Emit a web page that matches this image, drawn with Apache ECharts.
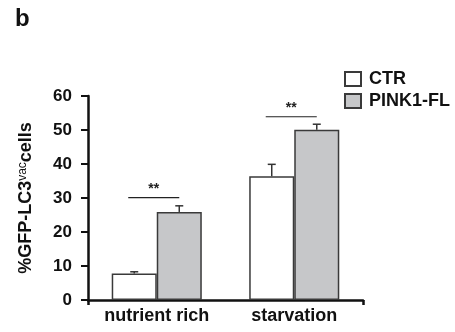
<!DOCTYPE html>
<html><head><meta charset="utf-8">
<script src="https://cdn.jsdelivr.net/npm/echarts@6/dist/echarts.min.js"></script>
<style>html,body{margin:0;padding:0;background:#fff}#c{width:455px;height:332px}</style>
</head><body><div id="c"></div>
<script>
const categories = ['nutrient rich', 'starvation'];
const seriesNames = ['CTR', 'PINK1-FL'];
const ctrValues = [7.8, 36.4];
const ctrErrors = [0.5, 3.5];
const pinkValues = [25.9, 50.1];
const pinkErrors = [1.8, 1.6];
const sigLevels = [30.1, 53.9];
const sigLabels = ['**', '**'];
const yTicks = [0, 10, 20, 30, 40, 50, 60];

const FONT = 'Liberation Sans, Arial, Helvetica, sans-serif';
const chart = echarts.init(document.getElementById('c'), null, {renderer: 'canvas'});

function errSeries(vals, errs, offsetIdx) {
  return {
    type: 'custom',
    xAxisIndex: 0, yAxisIndex: 0,
    z: 5,
    silent: true,
    data: vals.map((v, i) => [i, v, v + errs[i]]),
    renderItem: function (params, api) {
      const band = api.size([1, 0])[0];
      const barW = band * 0.3275;
      const c = api.coord([api.value(0), 0]);
      const x = c[0] + (offsetIdx === 0 ? -barW / 2 : barW / 2);
      const y0 = api.coord([api.value(0), api.value(1)])[1];
      const y1 = api.coord([api.value(0), api.value(2)])[1];
      const st = {stroke: '#333', lineWidth: 1.5};
      return {type: 'group', children: [
        {type: 'line', shape: {x1: x, y1: y0, x2: x, y2: y1}, style: st},
        {type: 'line', shape: {x1: x - 4, y1: y1, x2: x + 4, y2: y1}, style: st}
      ]};
    }
  };
}

chart.setOption({
  animation: false,
  title: {text: 'b', left: 10, top: 2, textStyle: {fontFamily: FONT, fontWeight: 'bold', fontSize: 24, color: '#111'}},
  legend: {
    orient: 'vertical', left: 339, top: 65, itemGap: 4,
    itemWidth: 16, itemHeight: 14, icon: 'rect',
    data: seriesNames,
    textStyle: {fontFamily: FONT, fontWeight: 'bold', fontSize: 18, lineHeight: 18, color: '#111', padding: [0, 0, 0, 3]}
  },
  grid: {left: 88, right: 92, top: 96, bottom: 32},
  xAxis: [{
    type: 'category', data: categories,
    axisLine: {show: true, lineStyle: {color: '#111', width: 2.5}},
    axisTick: {show: false},
    axisLabel: {fontFamily: FONT, fontWeight: 'bold', fontSize: 18, color: '#111', margin: 7}
  }, {
    type: 'value', min: 0, max: 1, interval: 1, position: 'bottom',
    axisLine: {show: false},
    axisTick: {show: true, length: 5, lineStyle: {color: '#111', width: 2.5}},
    axisLabel: {show: false}, splitLine: {show: false}
  }],
  yAxis: {
    type: 'value', min: yTicks[0], max: yTicks[yTicks.length - 1], interval: 10,
    axisLine: {show: true, lineStyle: {color: '#111', width: 2.5}},
    axisTick: {show: true, length: 7, lineStyle: {color: '#111', width: 2}},
    splitLine: {show: false},
    axisLabel: {fontFamily: FONT, fontWeight: 'bold', fontSize: 17, color: '#111', margin: 16},
    name: '{a|%GFP-LC3}{s|vac}{a|cells}',
    nameLocation: 'middle', nameRotate: 90, nameGap: 52,
    nameTextStyle: {
      rich: {
        a: {fontFamily: FONT, fontWeight: 'bold', fontSize: 18, color: '#111'},
        s: {fontFamily: FONT, fontSize: 12, color: '#111', verticalAlign: 'top', padding: [0, 0, 7, 0]}
      }
    }
  },
  series: [
    {
      name: seriesNames[0], type: 'bar', data: ctrValues, barGap: '0%', barCategoryGap: '34.5%',
      itemStyle: {color: '#ffffff', borderColor: '#3a3a3a', borderWidth: 1.5}
    },
    {
      name: seriesNames[1], type: 'bar', data: pinkValues, barGap: '0%', barCategoryGap: '34.5%',
      itemStyle: {color: '#c6c7c9', borderColor: '#3a3a3a', borderWidth: 1.5}
    },
    errSeries(ctrValues, ctrErrors, 0),
    errSeries(pinkValues, pinkErrors, 1),
    {
      type: 'custom', silent: true, z: 6,
      data: sigLevels.map((v, i) => [i, v, sigLabels[i]]),
      renderItem: function (params, api) {
        const band = api.size([1, 0])[0];
        const barW = band * 0.3275;
        const p = api.coord([api.value(0), api.value(1)]);
        const x1 = p[0] - barW / 2 - 6, x2 = p[0] + barW / 2;
        return {type: 'group', children: [
          {type: 'line', shape: {x1: x1, y1: p[1], x2: x2, y2: p[1]}, style: {stroke: '#222', lineWidth: 1.2}},
          {type: 'text', style: {text: sigLabels[params.dataIndex], x: (x1 + x2) / 2, y: p[1] - 2,
            align: 'center', verticalAlign: 'bottom', fontFamily: FONT, fontWeight: 'bold', fontSize: 14, fill: '#222'}}
        ]};
      }
    }
  ]
});
</script></body></html>
